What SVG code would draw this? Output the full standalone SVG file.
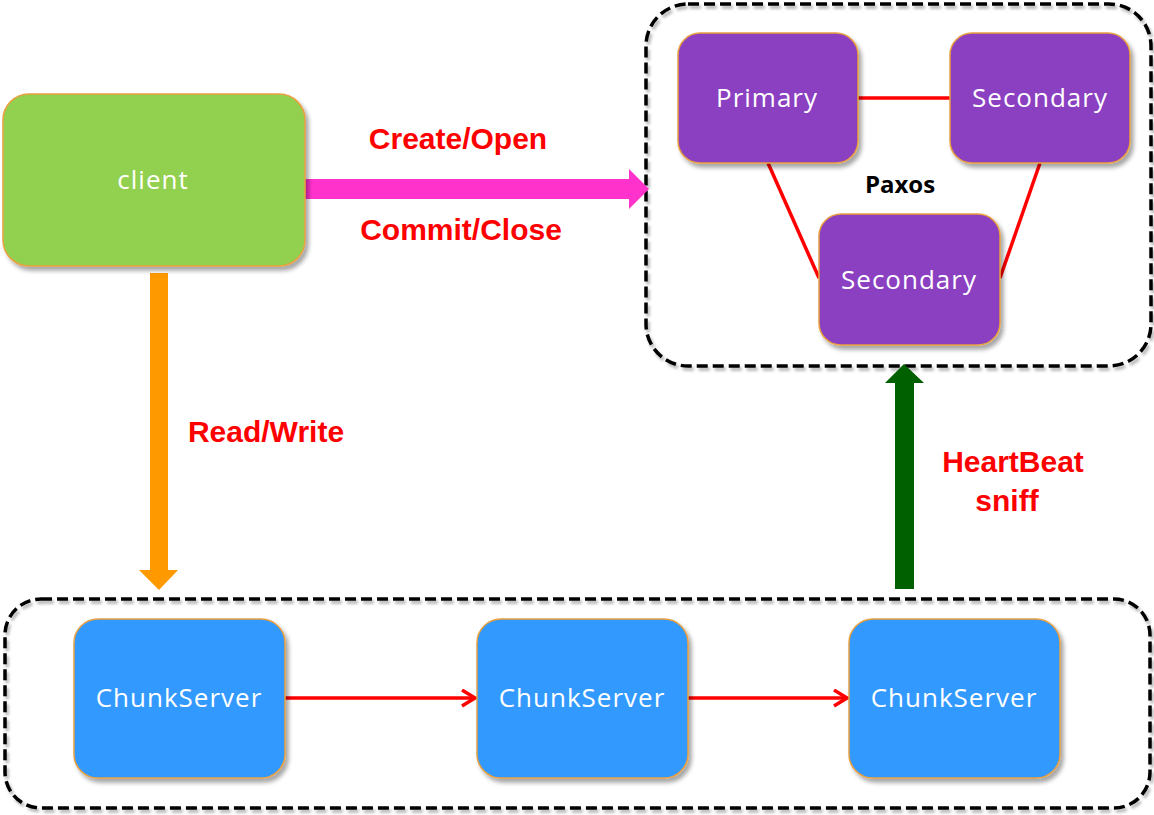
<svg xmlns="http://www.w3.org/2000/svg" width="1154" height="815" viewBox="0 0 1154 815">
<defs>
<style>
.node{stroke:#E8A040;stroke-width:1.5;filter:url(#sh)}
.cont{fill:none;stroke:#000;stroke-width:3.5;stroke-dasharray:11 5;filter:url(#sh2)}
.nt{font-family:"Open Sans","Noto Sans",sans-serif;font-size:26px;fill:#fff;text-anchor:middle;letter-spacing:1px}
.lbl{font-family:"Liberation Sans",Arial,sans-serif;font-weight:bold;font-size:30px;fill:#FF0000;text-anchor:middle}
.red{stroke:#FF0000;stroke-width:3.5;fill:none}
</style>
<filter id="sh" x="-10%" y="-10%" width="130%" height="130%">
<feDropShadow dx="3" dy="4" stdDeviation="2" flood-color="#000" flood-opacity="0.35"/>
</filter>
<filter id="sh2" x="-5%" y="-5%" width="110%" height="115%">
<feDropShadow dx="2" dy="3" stdDeviation="1.5" flood-color="#000" flood-opacity="0.3"/>
</filter>
<marker id="chev" markerWidth="18" markerHeight="20" refX="15" refY="9" orient="auto" markerUnits="userSpaceOnUse">
<path d="M2,1 L15,9 L2,17" fill="none" stroke="#FF0000" stroke-width="3.5"/>
</marker>
</defs>
<rect width="1154" height="815" fill="#fff"/>

<g id="paxos-group">
<rect class="cont" x="646" y="4" width="505" height="362" rx="42"/>
</g>
<g id="chunk-group">
<rect class="cont" x="5" y="599" width="1145" height="209" rx="36"/>
</g>

<g id="connectors">
<polygon points="303,179 629,179 629,169 649,189 629,209 629,199 303,199" fill="#FF33CC"/>
<polygon points="150,273 168,273 168,570 178,570 159,590 139,570 150,570" fill="#FF9900"/>
<polygon points="895,589 914,589 914,383 924,383 904,364 885,383 895,383" fill="#006000"/>
<line class="red" x1="858" y1="98" x2="950" y2="98"/>
<line class="red" x1="768" y1="163" x2="819" y2="278"/>
<line class="red" x1="1040" y1="163" x2="1000" y2="278"/>
<line class="red" x1="285" y1="698" x2="475" y2="698" marker-end="url(#chev)"/>
<line class="red" x1="688" y1="698" x2="847" y2="698" marker-end="url(#chev)"/>
<text class="lbl" x="458" y="149">Create/Open</text>
<text class="lbl" x="461" y="240">Commit/Close</text>
<text class="lbl" x="266" y="442">Read/Write</text>
<text class="lbl" x="1013" y="472">HeartBeat</text>
<text class="lbl" x="1007" y="511">sniff</text>
</g>

<g id="client">
<rect class="node" x="3" y="94" width="302" height="172" rx="26" fill="#92D050"/>
<text class="nt" x="153" y="189">client</text>
</g>
<g id="primary">
<rect class="node" x="678" y="33" width="180" height="130" rx="22" fill="#8B3FC2"/>
<text class="nt" x="767" y="107">Primary</text>
</g>
<g id="secondary1">
<rect class="node" x="950" y="33" width="180" height="130" rx="22" fill="#8B3FC2"/>
<text class="nt" x="1040" y="107">Secondary</text>
</g>
<g id="secondary2">
<rect class="node" x="819" y="214" width="181" height="131" rx="22" fill="#8B3FC2"/>
<text class="nt" x="909" y="289">Secondary</text>
</g>
<g id="paxos-label">
<text x="900" y="193" font-family="'Open Sans','Noto Sans',sans-serif" font-weight="bold" font-size="24" fill="#000" text-anchor="middle">Paxos</text>
</g>
<g id="chunkserver1">
<rect class="node" x="74" y="619" width="211" height="159" rx="24" fill="#3399FF"/>
<text class="nt" x="179" y="707">ChunkServer</text>
</g>
<g id="chunkserver2">
<rect class="node" x="477" y="619" width="211" height="159" rx="24" fill="#3399FF"/>
<text class="nt" x="582" y="707">ChunkServer</text>
</g>
<g id="chunkserver3">
<rect class="node" x="849" y="619" width="211" height="159" rx="24" fill="#3399FF"/>
<text class="nt" x="954" y="707">ChunkServer</text>
</g>
</svg>
